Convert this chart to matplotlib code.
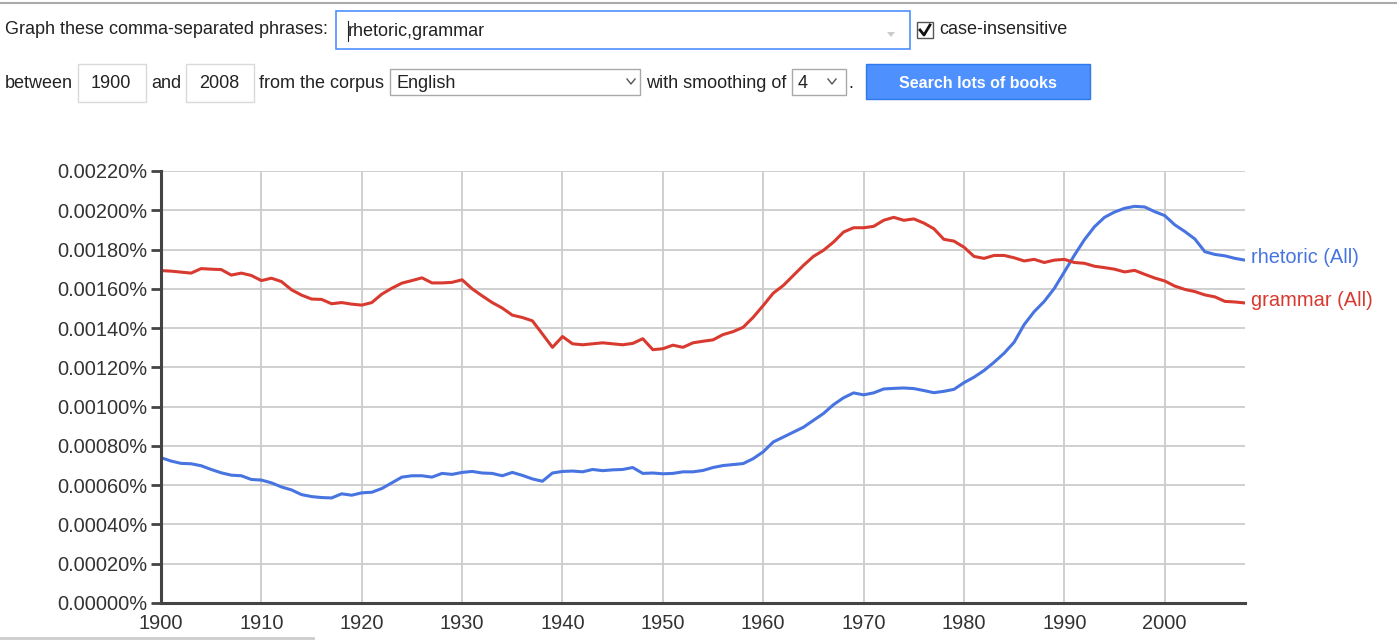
import numpy as np
import matplotlib
matplotlib.use("Agg")
import matplotlib.pyplot as plt
from matplotlib.patches import Rectangle, Polygon
from matplotlib.ticker import FuncFormatter

plt.rcParams['font.family'] = ['Liberation Sans', 'DejaVu Sans']

# data (percent of corpus), one value per year
years = np.arange(1900, 2009)
rhetoric = [
    0.00074, 0.000723, 0.000711, 0.000709, 0.000699, 0.00068, 0.000663, 0.000651, 0.000648, 0.000629,
    0.000626, 0.000612, 0.000591, 0.000576, 0.000552, 0.000542, 0.000537, 0.000535, 0.000556, 0.000549,
    0.000561, 0.000564, 0.000583, 0.000612, 0.000641, 0.000648, 0.000648, 0.000641, 0.00066, 0.000655,
    0.000665, 0.00067, 0.000662, 0.00066, 0.000648, 0.000665, 0.00065, 0.000632, 0.00062, 0.000662,
    0.00067, 0.000672, 0.000668, 0.00068, 0.000674, 0.000678, 0.00068, 0.00069, 0.00066, 0.000662,
    0.000658, 0.00066, 0.000668, 0.000668, 0.000675, 0.00069, 0.0007, 0.000705, 0.00071, 0.000735,
    0.00077, 0.00082, 0.000845, 0.00087, 0.000895, 0.00093, 0.000965, 0.00101, 0.001045, 0.00107,
    0.00106, 0.00107, 0.00109, 0.001093, 0.001095, 0.001092, 0.001082, 0.001071, 0.001078, 0.001088,
    0.001122, 0.00115, 0.001184, 0.001226, 0.001272, 0.001328, 0.001418, 0.001484, 0.001536, 0.001602,
    0.001686, 0.001771, 0.00185, 0.001916, 0.001964, 0.001991, 0.00201, 0.00202, 0.002017, 0.001993,
    0.001973, 0.001926, 0.001892, 0.001854, 0.001789, 0.001775, 0.001768, 0.001755, 0.001746,
]
grammar = [
    0.001693, 0.00169, 0.001685, 0.00168, 0.001703, 0.0017, 0.001698, 0.00167, 0.00168, 0.001668,
    0.001642, 0.001654, 0.001637, 0.001595, 0.001568, 0.001548, 0.001546, 0.001524, 0.00153, 0.001522,
    0.001517, 0.00153, 0.001573, 0.001603, 0.001629, 0.001642, 0.001656, 0.00163, 0.00163, 0.001633,
    0.001646, 0.0016, 0.001564, 0.00153, 0.001502, 0.001466, 0.001454, 0.001437, 0.00137, 0.001302,
    0.001357, 0.00132, 0.001315, 0.00132, 0.001325, 0.00132, 0.001315, 0.001322, 0.001346, 0.00129,
    0.001295, 0.001313, 0.001302, 0.001325, 0.001333, 0.00134, 0.001367, 0.001382, 0.001404, 0.001455,
    0.001515, 0.001578, 0.001617, 0.001668, 0.001719, 0.001765, 0.001796, 0.001838, 0.001889, 0.001911,
    0.001911, 0.001918, 0.001949, 0.001964, 0.001949, 0.001956, 0.001935, 0.001906, 0.001852, 0.001843,
    0.001812, 0.001765, 0.001755, 0.00177, 0.00177, 0.001758, 0.001742, 0.00175, 0.001734, 0.001746,
    0.00175, 0.001734, 0.00173, 0.001715, 0.001708, 0.0017, 0.001686, 0.001694, 0.001674, 0.001655,
    0.00164, 0.001614, 0.001597, 0.001586, 0.001569, 0.001559, 0.001536, 0.001533, 0.001528,
]
labels = ['rhetoric (All)', 'grammar (All)']
colors = ['#4774e0', '#d93a2f']
yticks = np.arange(0, 0.00221, 0.0002)
xticks = np.arange(1900, 2001, 10)

W, H = 1397, 641
fig = plt.figure(figsize=(W / 100, H / 100), dpi=100)

# page background / search form drawn in pixel coords
bg = fig.add_axes([0, 0, 1, 1])
bg.set_xlim(0, W)
bg.set_ylim(H, 0)
bg.axis('off')

ui = dict(fontsize=13, color='#222222', va='center')
bg.plot([0, W], [3, 3], color='#aaaaaa', lw=1.5)
bg.text(5, 30, 'Graph these comma-separated phrases:', **ui)
bg.add_patch(Rectangle((336, 11), 574, 38, fc='white', ec='#4d90fe', lw=1.2))
bg.text(348, 31, 'rhetoric,grammar', **ui)
bg.plot([348, 348], [21, 41], color='#222222', lw=0.8)
bg.add_patch(Polygon([[887, 32], [895, 32], [891, 37]], closed=True, fc='#cccccc', ec='none'))
bg.add_patch(Rectangle((917, 22), 16, 16, fc='white', ec='#555555', lw=1))
bg.plot([920, 924, 930], [30, 35, 25], color='#111111', lw=2)
bg.text(939, 29, 'case-insensitive', **ui)

bg.text(5, 83, 'between', **ui)
bg.add_patch(Rectangle((78, 64), 68, 38, fc='white', ec='#d9d9d9', lw=1))
bg.text(111, 84, '1900', ha='center', fontsize=13, color='#222222', va='center')
bg.text(151, 83, 'and', **ui)
bg.add_patch(Rectangle((186, 64), 68, 38, fc='white', ec='#d9d9d9', lw=1))
bg.text(219, 84, '2008', ha='center', fontsize=13, color='#222222', va='center')
bg.text(259, 83, 'from the corpus', **ui)
bg.add_patch(Rectangle((390, 69), 250, 26, fc='white', ec='#a9a9a9', lw=1))
bg.text(397, 83, 'English', **ui)
bg.plot([627, 631, 635], [79, 84, 79], color='#555555', lw=1)
bg.text(646, 83, 'with smoothing of', **ui)
bg.add_patch(Rectangle((792, 69), 54, 26, fc='white', ec='#a9a9a9', lw=1))
bg.text(798, 83, '4', **ui)
bg.plot([828, 832, 836], [79, 84, 79], color='#555555', lw=1)
bg.text(848, 83, '.', **ui)
bg.add_patch(Rectangle((866, 64), 224, 35, fc='#4d90fe', ec='#3079ed', lw=1))
bg.text(978, 83, 'Search lots of books', ha='center', va='center',
        fontsize=11.5, color='white', fontweight='bold')
bg.plot([0, 313], [638, 638], color='#cccccc', lw=2)

# chart
ax = fig.add_axes([161 / W, (H - 603) / H, (1245 - 161) / W, (603 - 171) / H])
ax.set_facecolor('none')
for vals, lab, c in zip([rhetoric, grammar], labels, colors):
    ax.plot(years, vals, color=c, lw=2.2, solid_joinstyle='round')
    ax.annotate(lab, (years[-1], vals[-1]), xytext=(4, 2), textcoords='offset points',
                color=c, fontsize=14.4, va='center', ha='left', annotation_clip=False)

ax.set_xlim(1900, 2008)
ax.set_ylim(0, 0.0022)
ax.set_yticks(yticks)
ax.set_xticks(xticks)
ax.yaxis.set_major_formatter(FuncFormatter(lambda v, p: f'{v:.5f}%'))
ax.grid(True, color='#cccccc', lw=1.3)
ax.set_axisbelow(True)
for s in ['top', 'right']:
    ax.spines[s].set_visible(False)
for s in ['left', 'bottom']:
    ax.spines[s].set_color('#444444')
    ax.spines[s].set_linewidth(2.2)
ax.tick_params(axis='y', length=7, width=2, color='#444444', labelsize=14.4,
               labelcolor='#333333', pad=3)
ax.tick_params(axis='x', length=0, labelsize=14.4, labelcolor='#333333', pad=8)

fig.savefig('out.png', dpi=100)
